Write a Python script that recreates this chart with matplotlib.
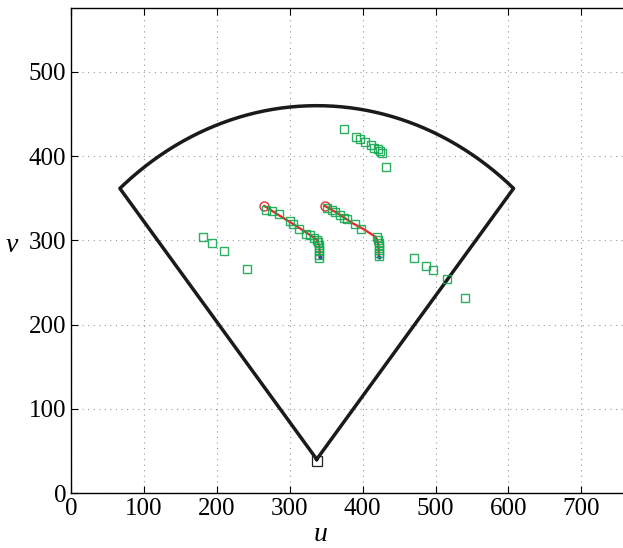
import numpy as np
import matplotlib
matplotlib.use('Agg')
from matplotlib import pyplot as plt

plt.rcParams['font.family'] = ['Liberation Serif', 'DejaVu Serif']
plt.rcParams['mathtext.fontset'] = 'stix'

# image size (pixels) and camera field of view
img_w, img_h = 768, 576
apex = (337, 40)
fov_radius = 420
fov_half_angle = 40  # degrees

# true tracks (red)
track1_u = [265, 283, 300, 318, 337, 340, 341, 341]
track1_v = [341, 331, 322, 312, 301, 295, 288, 280]
track2_u = [348, 366, 385, 402, 418, 421, 422, 422]
track2_v = [341, 332, 321, 313, 304, 298, 290, 280]

# measurements (green squares)
meas_u = [267, 275, 285, 301, 305, 313, 322, 328, 333, 337, 339, 340, 340, 340, 340, 340,
          351, 358, 362, 369, 374, 379, 390, 398, 419, 421, 422, 422, 422, 422, 422,
          375, 391, 396, 403, 412, 416, 421, 424, 427, 432,
          181, 194, 210, 241,
          470, 487, 496, 516, 540]
meas_v = [336, 335, 331, 323, 320, 314, 308, 306, 303, 301, 298, 295, 291, 287, 283, 279,
          339, 336, 334, 330, 327, 325, 319, 314, 304, 300, 297, 293, 289, 285, 281,
          432, 423, 421, 417, 413, 410, 408, 406, 404, 387,
          304, 297, 288, 266,
          279, 270, 265, 254, 232]

fig = plt.figure(figsize=(6.23, 5.48), dpi=100)
ax = fig.add_axes([71/623, 55/548, 560/623, 485/548])

# field of view sector
ang = np.radians(np.linspace(90 - fov_half_angle, 90 + fov_half_angle, 200))
arc_u = apex[0] + fov_radius*np.cos(ang)
arc_v = apex[1] + fov_radius*np.sin(ang)
sec_u = np.concatenate([[apex[0]], arc_u, [apex[0]]])
sec_v = np.concatenate([[apex[1]], arc_v, [apex[1]]])
ax.plot(sec_u, sec_v, color='#1a1a1a', lw=2.5, zorder=3)
ax.plot(apex[0], apex[1] - 2, 's', mfc='none', mec='#222222', ms=6.5, mew=0.9, zorder=4)

for tu, tv in [(track1_u, track1_v), (track2_u, track2_v)]:
    ax.plot(tu, tv, '-', color='#ee2222', lw=1.6, zorder=4)
    ax.plot(tu[0], tv[0], 'o', mfc='none', mec='#dd3333', ms=6.5, mew=1.0, zorder=5)
    ax.plot(tu[-1], tv[-1], '.', color='#3344aa', ms=4, zorder=4)

ax.plot(meas_u, meas_v, 's', mfc='none', mec='#14a850', ms=5.5, mew=1.0, alpha=0.9, zorder=6)

ax.set_xlim(0, img_w)
ax.set_ylim(0, img_h)
ax.set_xticks(np.arange(0, 701, 100))
ax.set_yticks(np.arange(0, 501, 100))
ax.tick_params(direction='in', labelsize=18, length=5, width=0.8,
               top=True, right=True)
ax.grid(True, linestyle=(0, (1, 4)), color='#999999', linewidth=0.8)
for sp in ax.spines.values():
    sp.set_linewidth(1.0)

ax.set_xlabel('u', fontsize=20, style='italic')
ax.set_ylabel('v', fontsize=20, style='italic', rotation=0)
ax.xaxis.set_label_coords(0.445, -0.06)
ax.yaxis.set_label_coords(-0.105, 0.485)

fig.savefig('out.png', dpi=100)
